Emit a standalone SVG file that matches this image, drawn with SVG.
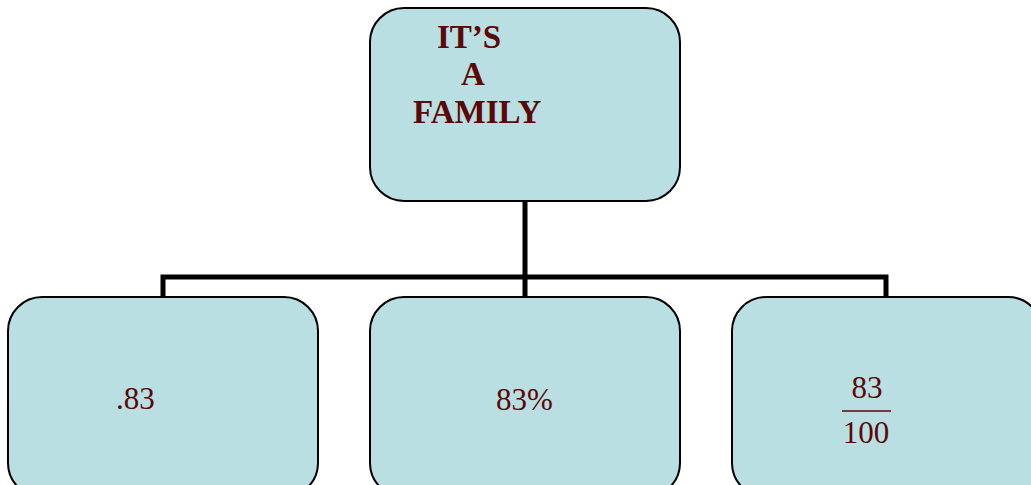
<svg xmlns="http://www.w3.org/2000/svg" width="1031" height="485" viewBox="0 0 1031 485">
<style>
.box{fill:#badfe3;stroke:#000;stroke-width:2}
.t{font-family:"Liberation Serif","Times New Roman",serif;fill:#5a0808}
.b{font-weight:bold;font-size:33px}
.n{font-size:31px}
.conn{fill:none;stroke:#000;stroke-width:5}
</style>
<rect x="0" y="0" width="1031" height="485" fill="#fff"/>
<g id="connectors">
<path class="conn" d="M525 201V297M163 297V277H886V297"/>
</g>
<g id="node-family">
<rect class="box" x="370" y="8" width="310" height="193" rx="34"/>
<text class="t b" x="437" y="48">IT’S</text>
<text class="t b" x="461" y="85">A</text>
<text class="t b" x="413" y="123">FAMILY</text>
</g>
<g id="node-decimal">
<rect class="box" x="8" y="297" width="310" height="200" rx="34"/>
<text class="t n" x="116" y="409">.83</text>
</g>
<g id="node-percent">
<rect class="box" x="370" y="297" width="310" height="200" rx="34"/>
<text class="t n" x="496" y="410">83%</text>
</g>
<g id="node-fraction">
<rect class="box" x="732" y="297" width="310" height="200" rx="34"/>
<text class="t n" x="867" y="398" text-anchor="middle">83</text>
<line x1="842" y1="411" x2="891" y2="411" stroke="#5a0808" stroke-width="1.5"/>
<text class="t n" x="866" y="443" text-anchor="middle">100</text>
</g>
</svg>
